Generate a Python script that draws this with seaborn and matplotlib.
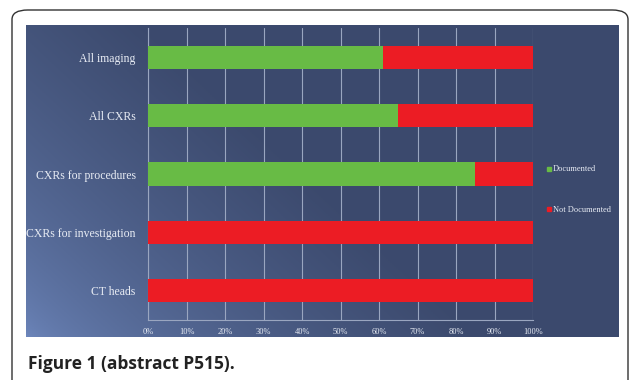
import numpy as np
import pandas as pd
import matplotlib.pyplot as plt
import seaborn as sns
from matplotlib.patches import FancyBboxPatch
from matplotlib.lines import Line2D

categories = ["All imaging", "All CXRs", "CXRs for procedures",
              "CXRs for investigation", "CT heads"]
documented = [61, 65, 85, 0, 0]
not_documented = [39, 35, 15, 100, 100]
xtick_labels = ["0%", "10%", "20%", "30%", "40%", "50%",
                "60%", "70%", "80%", "90%", "100%"]

GREEN = "#68bb45"
RED = "#ec1c24"
TXT = "#e8ecf4"
GRID = "#9aa6c0"
SERIF = "Liberation Serif"

df = pd.DataFrame({"cat": categories, "doc": documented, "notdoc": not_documented})
df["total"] = df["doc"] + df["notdoc"]

sns.set_style("white")
fig = plt.figure(figsize=(6.3, 3.8), dpi=100)
fig.patch.set_facecolor("white")

W, H = 630, 380
def fx(px):
    return px / W
def fy(py):
    return 1 - py / H

# rounded outer frame, open at the bottom
frame = FancyBboxPatch((fx(12), fy(420)), fx(616), 410 / H,
                       boxstyle="round,pad=0,rounding_size=0.025",
                       transform=fig.transFigure, fill=False,
                       edgecolor="#333333", linewidth=1.0, clip_on=False)
fig.patches.append(frame)

# background panel with gradient
bg = fig.add_axes([fx(26), fy(337), fx(619 - 26), (337 - 25) / H])
nx, ny = 300, 160
xx, yy = np.meshgrid(np.linspace(0, 1, nx), np.linspace(0, 1, ny))
d = np.clip((xx * 1.6 + (1 - yy) * 0.9) / 1.2, 0, 1)
light = np.array([0.43, 0.53, 0.74])
dark = np.array([0.235, 0.29, 0.43])
t = np.clip(d ** 0.6, 0, 1)[..., None]
img = light * (1 - t) + dark * t
bg.imshow(img, aspect="auto", origin="upper", extent=[0, 1, 0, 1])
bg.set_axis_off()

ax = fig.add_axes([fx(148), fy(320), fx(533 - 148), (320 - 28) / H])
ax.patch.set_alpha(0)

sns.barplot(data=df, y="cat", x="total", color=RED, width=0.4,
            orient="h", ax=ax, saturation=1, zorder=3, linewidth=0)
sns.barplot(data=df, y="cat", x="doc", color=GREEN, width=0.4,
            orient="h", ax=ax, saturation=1, zorder=4, linewidth=0)

ax.set_xlim(0, 100)
ax.set_ylim(4.5, -0.5)
ax.set_xticks(np.arange(0, 101, 10))
ax.set_xticklabels(xtick_labels, fontsize=6, color=TXT, family=SERIF)
ax.set_yticks(range(len(categories)))
ax.set_yticklabels(categories, fontsize=8.5, color=TXT, family=SERIF)
ax.set_xlabel("")
ax.set_ylabel("")
ax.tick_params(axis="y", length=0, pad=9)
ax.tick_params(axis="x", length=3, color=GRID, pad=3, direction="out")
ax.set_yticks(np.arange(-0.5, 4.6, 1), minor=True)
ax.tick_params(axis="y", which="minor", length=3, color=GRID, direction="out")
ax.grid(axis="x", color=GRID, linewidth=0.8, zorder=0)
ax.set_axisbelow(True)
for s in ["top", "right"]:
    ax.spines[s].set_visible(False)
for s in ["left", "bottom"]:
    ax.spines[s].set_color(GRID)
    ax.spines[s].set_linewidth(0.8)

handles = [Line2D([], [], marker="s", linestyle="", color=GREEN, markersize=3),
           Line2D([], [], marker="s", linestyle="", color=RED, markersize=3)]
fig.legend(handles, ["Documented", "Not Documented"], loc="upper left",
           bbox_to_anchor=(fx(538), fy(158)), frameon=False,
           prop={"family": SERIF, "size": 6}, labelcolor=TXT,
           handletextpad=0.1, labelspacing=3.9, handlelength=0.8)

fig.text(fx(28), fy(364), "Figure 1 (abstract P515).", fontsize=12.5,
         fontweight="bold", family="Open Sans", color="#222222", va="center")

fig.savefig("out.png", dpi=100)
